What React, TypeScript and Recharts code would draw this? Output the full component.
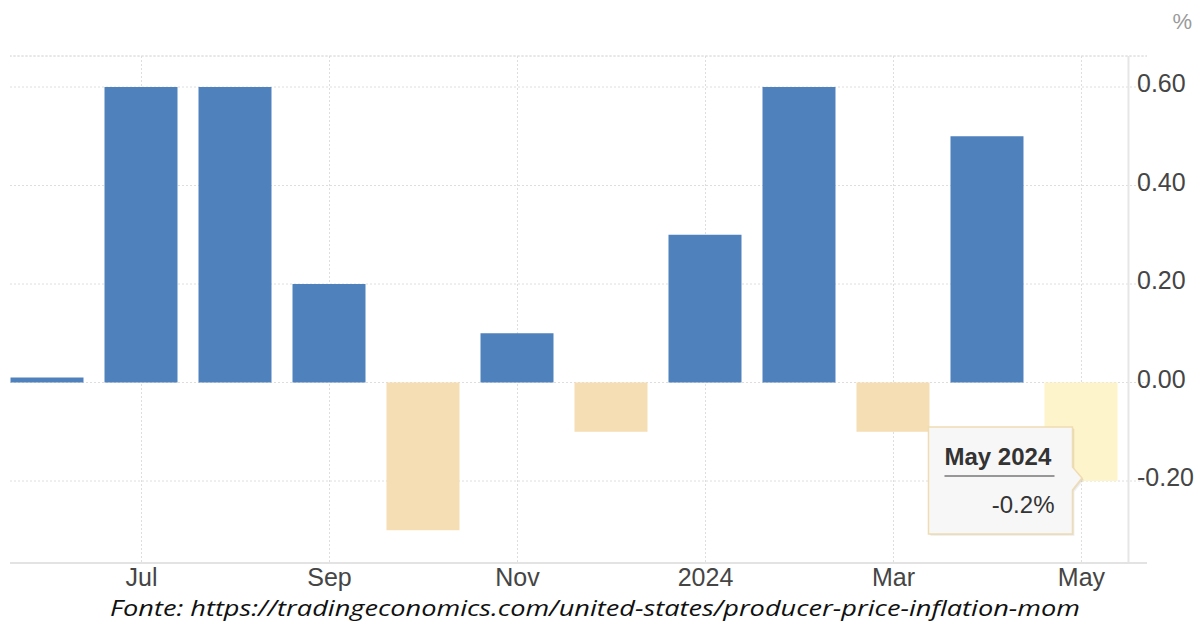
import React from 'react';
import { BarChart, Bar, XAxis, YAxis, CartesianGrid, ReferenceLine, Cell, LabelList } from 'recharts';

const months = ['Jun 2023', 'Jul 2023', 'Aug 2023', 'Sep 2023', 'Oct 2023', 'Nov 2023', 'Dec 2023', 'Jan 2024', 'Feb 2024', 'Mar 2024', 'Apr 2024', 'May 2024'];
const values = [0.01, 0.6, 0.6, 0.2, -0.3, 0.1, -0.1, 0.3, 0.6, -0.1, 0.5, -0.2];
const xTickIndices = [1, 3, 5, 7, 9, 11];
const xTickLabels = ['Jul', 'Sep', 'Nov', '2024', 'Mar', 'May'];
const yTicks = [-0.2, 0, 0.2, 0.4, 0.6];
const yMin = -0.3665;
const yMax = 0.663;
const xMin = -0.399;
const xMax = 11.697;
const highlightIndex = 11;
const tooltipTitle = 'May 2024';
const tooltipValue = '-0.2%';
const sourceText = 'Fonte: https://tradingeconomics.com/united-states/producer-price-inflation-mom';

const BLUE = '#4f81bd';
const WHEAT = '#f5deb3';
const HOVER = '#fdf4cb';
const FONT = '"Liberation Sans", Arial, sans-serif';

const data = months.map((m, i) => ({ i, month: m, v: values[i] }));

const XTick = (props: any) => {
  const { x, y, payload } = props;
  const k = xTickIndices.indexOf(payload.value);
  const label = k >= 0 ? xTickLabels[k] : '';
  return (
    <text x={x} y={y + 23} textAnchor="middle" fontFamily={FONT} fontSize={25} fill="#454545">
      {label}
    </text>
  );
};

const YTick = (props: any) => {
  const { x, y, payload } = props;
  return (
    <text x={x - 10} y={y + 5} textAnchor="start" fontFamily={FONT} fontSize={25} fill="#454545">
      {payload.value.toFixed(2)}
    </text>
  );
};

const TipLabel = (props: any) => {
  const { x, y, width, height, index } = props;
  if (index !== highlightIndex) return null;
  const tx = Number(x) + Number(width) / 2;
  const ty = Math.max(Number(y), Number(y) + Number(height));
  const left = tx - 152.5;
  const right = tx - 8.5;
  const top = ty - 54;
  const bottom = ty + 53;
  const path = `M${left},${top} L${right},${top} L${right},${ty - 14} L${tx + 1},${ty - 3} L${right},${ty + 9} L${right},${bottom} L${left},${bottom} Z`;
  return (
    <g>
      <path d={path} transform="translate(2,2)" fill="rgba(0,0,0,0.06)" />
      <path d={path} transform="translate(1,1)" fill="rgba(0,0,0,0.08)" />
      <path d={path} fill="#f7f7f7" stroke="#efdcb2" strokeWidth={1.5} />
      <text x={left + 16} y={ty - 16} fontFamily={FONT} fontSize={24} fontWeight="bold" fill="#333">
        {tooltipTitle}
      </text>
      <line x1={left + 16} x2={right - 18} y1={ty - 5} y2={ty - 5} stroke="#777" strokeWidth={1.5} />
      <text x={right - 18} y={ty + 32} textAnchor="end" fontFamily={FONT} fontSize={24} fill="#333">
        {tooltipValue}
      </text>
    </g>
  );
};

const verticalGen = (args: any) => {
  const scale = args && args.xAxis && args.xAxis.scale;
  if (typeof scale === 'function') return xTickIndices.map((t) => scale(t));
  if (scale && typeof scale.map === 'function') return xTickIndices.map((t) => scale.map(t));
  return [];
};

export default function App() {
  return (
    <div style={{ position: 'absolute', left: 0, top: 0, width: 1198, height: 621, background: '#fff' }}>
      <BarChart width={1198} height={621} data={data} margin={{ top: 56, right: 0, left: 10, bottom: 0 }}>
        <CartesianGrid stroke="#dedede" strokeDasharray="2 2" verticalCoordinatesGenerator={verticalGen} />
        <ReferenceLine y={yMax} stroke="#dedede" strokeDasharray="2 2" />
        <ReferenceLine x={11.5} stroke="#e6e6e6" strokeWidth={2} />
        <XAxis
          type="number"
          dataKey="i"
          domain={[xMin, xMax]}
          allowDataOverflow
          ticks={xTickIndices}
          interval={0}
          height={58}
          tickSize={0}
          tickMargin={0}
          tickLine={false}
          axisLine={{ stroke: '#e3e3e3', strokeWidth: 2 }}
          tick={<XTick />}
        />
        <YAxis
          orientation="right"
          type="number"
          domain={[yMin, yMax]}
          allowDataOverflow
          ticks={yTicks}
          interval={0}
          width={51}
          tickSize={0}
          tickMargin={0}
          tickLine={false}
          axisLine={false}
          tick={<YTick />}
        />
        <Bar dataKey="v" barSize={73} isAnimationActive={false}>
          {data.map((d, idx) => (
            <Cell key={idx} fill={idx === highlightIndex ? HOVER : d.v >= 0 ? BLUE : WHEAT} />
          ))}
          <LabelList dataKey="v" content={<TipLabel />} />
        </Bar>
      </BarChart>
      <svg width={1198} height={621} style={{ position: 'absolute', left: 0, top: 0, pointerEvents: 'none' }}>
        <text x={1192} y={29} textAnchor="end" fontFamily={FONT} fontSize={22} fill="#9a9a9a">%</text>
        <text
          x={110}
          y={616}
          fontFamily='"Open Sans", sans-serif'
          fontStyle="italic"
          fontSize={21}
          fill="#111"
          textLength={970}
          lengthAdjust="spacingAndGlyphs"
        >
          {sourceText}
        </text>
      </svg>
    </div>
  );
}
